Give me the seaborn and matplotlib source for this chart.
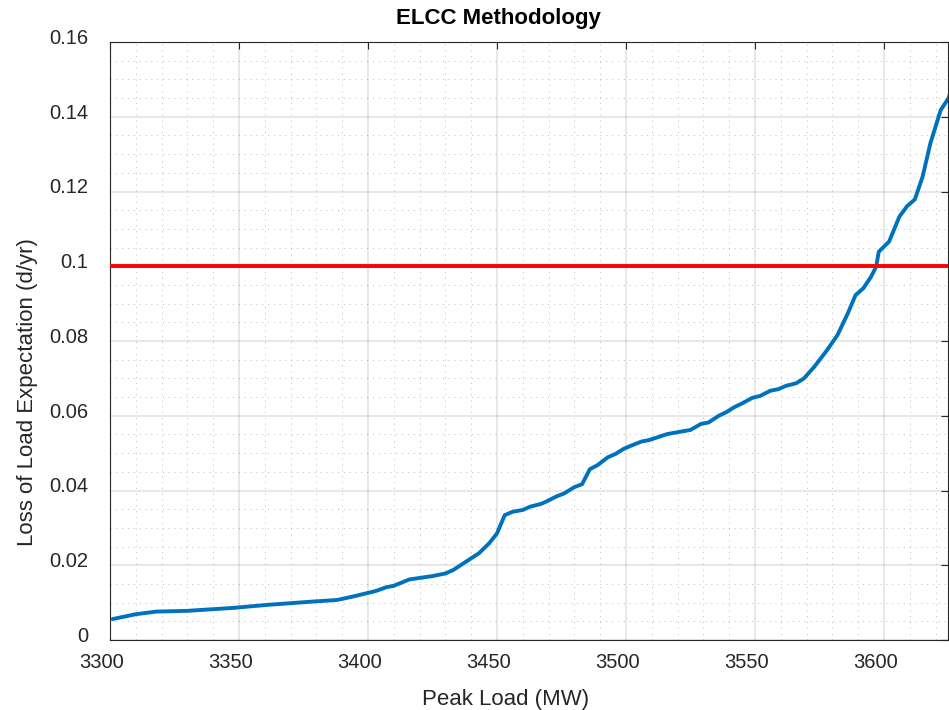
import matplotlib
matplotlib.use("Agg")
import matplotlib.pyplot as plt
import matplotlib.transforms as mtransforms
import seaborn as sns
import numpy as np
import pandas as pd
from matplotlib.ticker import MultipleLocator, FuncFormatter

peak_load = [3301, 3310, 3318, 3330, 3348, 3361, 3379, 3388, 3394, 3403, 3407, 3410,
             3416, 3425, 3430, 3433, 3437, 3443, 3447, 3450, 3453, 3456, 3460, 3463,
             3467, 3469, 3473, 3476, 3480, 3483, 3486, 3489, 3493, 3496, 3499, 3502,
             3506, 3509, 3516, 3520, 3525, 3529, 3532, 3536, 3539, 3542, 3545, 3549,
             3552, 3556, 3559, 3562, 3566, 3569, 3573, 3578, 3582, 3586, 3589, 3592,
             3595, 3597, 3598, 3602, 3606, 3609, 3612, 3615, 3618, 3622, 3625, 3627]
lole = [0.0056, 0.0069, 0.0076, 0.0078, 0.0086, 0.0094, 0.0103, 0.0107, 0.0116, 0.0131,
        0.0141, 0.0145, 0.0162, 0.0171, 0.0178, 0.0187, 0.0205, 0.0232, 0.0259, 0.0285,
        0.0334, 0.0343, 0.0348, 0.0357, 0.0364, 0.0370, 0.0384, 0.0392, 0.0409, 0.0417,
        0.0457, 0.0468, 0.0489, 0.0498, 0.0511, 0.0520, 0.0531, 0.0535, 0.0551, 0.0556,
        0.0562, 0.0578, 0.0582, 0.0600, 0.0610, 0.0623, 0.0633, 0.0648, 0.0653, 0.0667,
        0.0671, 0.0680, 0.0687, 0.0700, 0.0731, 0.0776, 0.0816, 0.0874, 0.0923, 0.0941,
        0.0972, 0.0999, 0.1039, 0.1066, 0.1133, 0.1161, 0.1179, 0.1240, 0.1329, 0.1418,
        0.1449, 0.1490]
target_lole = 0.1

title = "ELCC Methodology"
xlabel = "Peak Load (MW)"
ylabel = "Loss of Load Expectation (d/yr)"

sns.set_style("white")
plt.rcParams['font.family'] = ['Liberation Sans', 'DejaVu Sans']

fig = plt.figure(figsize=(9.49, 7.10), dpi=100)
ax = fig.add_axes([0.1159, 0.0986, 0.8835, 0.8422])

df = pd.DataFrame({"x": peak_load, "y": lole})
sns.lineplot(data=df, x="x", y="y", ax=ax, color="#0072BD", linewidth=2.8, zorder=3)
ax.axhline(target_lole, color="#FF0000", linewidth=2.8, zorder=4)

ax.set_xlim(3300, 3625)
ax.set_ylim(0, 0.16)
ax.xaxis.set_major_locator(MultipleLocator(50))
ax.xaxis.set_minor_locator(MultipleLocator(10))
ax.yaxis.set_major_locator(MultipleLocator(0.02))
ax.yaxis.set_minor_locator(MultipleLocator(0.005))
ax.yaxis.set_major_formatter(FuncFormatter(lambda v, p: f"{round(v, 4):g}"))

ax.grid(True, which="major", color="#262626", alpha=0.1, linewidth=1.5, linestyle="-")
ax.grid(True, which="minor", color="#262626", alpha=0.3, linewidth=0.7, linestyle=(0, (1, 5)))
ax.set_axisbelow(True)

for s in ax.spines.values():
    s.set_visible(True)
    s.set_color("#262626")
    s.set_linewidth(0.8)

ax.tick_params(which="major", direction="in", length=5, width=0.8, color="#262626",
               top=True, right=True, labelsize=14.5, labelcolor="#262626")
ax.tick_params(axis="x", which="major", pad=9.5)
ax.tick_params(axis="y", which="major", pad=15.8)
ax.tick_params(which="minor", length=0, top=True, right=True)

# MATLAB-like label placement offsets
xoff = mtransforms.ScaledTranslation(-6.1 / 72, 0, fig.dpi_scale_trans)
yoff = mtransforms.ScaledTranslation(0, 4.0 / 72, fig.dpi_scale_trans)
for lab in ax.get_xticklabels():
    lab.set_transform(lab.get_transform() + xoff)
for lab in ax.get_yticklabels():
    lab.set_transform(lab.get_transform() + yoff)

ax.set_xlabel(xlabel, fontsize=16, color="#262626")
ax.xaxis.set_label_coords(0.4714, -0.1087)
ax.xaxis.label.set_va("baseline")
ax.set_ylabel(ylabel, fontsize=16, color="#262626")
ax.yaxis.set_label_coords(-0.0919, 0.4139)
ax.yaxis.label.set_va("baseline")

ax.set_title(title, fontsize=16, fontweight="bold", color="black", y=1.0301, pad=0,
             va="baseline")
ax.title.set_x(0.463)

fig.savefig("out.png", dpi=100)
